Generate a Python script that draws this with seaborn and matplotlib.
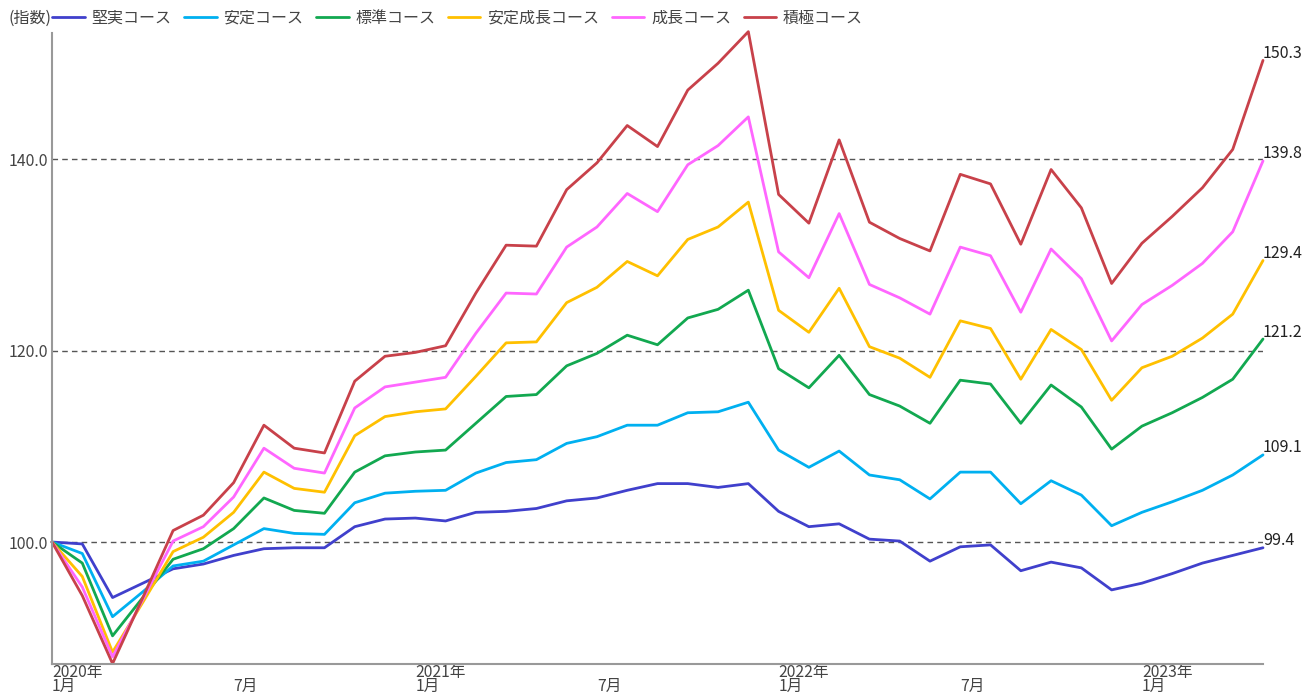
import numpy as np
import pandas as pd
import matplotlib
matplotlib.use("Agg")
import matplotlib.pyplot as plt
import seaborn as sns

courses = ["堅実コース", "安定コース", "標準コース", "安定成長コース", "成長コース", "積極コース"]
colors = ["#4040CC", "#00B0F0", "#12A850", "#FFC000", "#FF66FF", "#C8414A"]

kenjitsu = [100, 99.8, 94.2, 95.7, 97.2, 97.7, 98.6, 99.3, 99.4, 99.4, 101.6, 102.4, 102.5, 102.2,
            103.1, 103.2, 103.5, 104.3, 104.6, 105.4, 106.1, 106.1, 105.7, 106.1, 103.2, 101.6,
            101.9, 100.3, 100.1, 98.0, 99.5, 99.7, 97.0, 97.9, 97.3, 95.0, 95.7, 96.7, 97.8, 98.6, 99.4]
antei = [100, 98.8, 92.2, 94.8, 97.5, 98.0, 99.7, 101.4, 100.9, 100.8, 104.1, 105.1, 105.3, 105.4,
         107.2, 108.3, 108.6, 110.3, 111.0, 112.2, 112.2, 113.5, 113.6, 114.6, 109.6, 107.8,
         109.5, 107.0, 106.5, 104.5, 107.3, 107.3, 104.0, 106.4, 104.9, 101.7, 103.1, 104.2, 105.4, 107.0, 109.1]
hyojun = [100, 97.8, 90.2, 94.2, 98.2, 99.3, 101.4, 104.6, 103.3, 103.0, 107.3, 109.0, 109.4, 109.6,
          112.4, 115.2, 115.4, 118.4, 119.7, 121.6, 120.6, 123.4, 124.3, 126.3, 118.1, 116.1,
          119.5, 115.4, 114.2, 112.4, 116.9, 116.5, 112.4, 116.4, 114.1, 109.7, 112.1, 113.5, 115.1, 117.0, 121.2]
antei_seicho = [100, 96.4, 88.5, 93.7, 99.0, 100.5, 103.1, 107.3, 105.6, 105.2, 111.1, 113.1, 113.6, 113.9,
                117.3, 120.8, 120.9, 125.0, 126.6, 129.3, 127.8, 131.6, 132.9, 135.5, 124.2, 121.9,
                126.5, 120.4, 119.2, 117.2, 123.1, 122.3, 117.0, 122.2, 120.1, 114.8, 118.2, 119.4, 121.3, 123.8, 129.4]
seicho = [100, 95.3, 88.0, 94.0, 100.1, 101.6, 104.7, 109.8, 107.7, 107.2, 114.0, 116.2, 116.7, 117.2,
          121.8, 126.0, 125.9, 130.8, 132.9, 136.4, 134.5, 139.4, 141.4, 144.4, 130.3, 127.6,
          134.3, 126.9, 125.5, 123.8, 130.8, 129.9, 124.0, 130.6, 127.5, 121.0, 124.8, 126.8, 129.1, 132.4, 139.8]
sekkyoku = [100, 94.4, 87.3, 94.2, 101.2, 102.8, 106.2, 112.2, 109.8, 109.3, 116.8, 119.4, 119.8, 120.5,
            126.0, 131.0, 130.9, 136.8, 139.6, 143.5, 141.3, 147.2, 150.0, 153.3, 136.3, 133.3,
            142.0, 133.4, 131.7, 130.4, 138.4, 137.4, 131.1, 138.9, 134.9, 127.0, 131.2, 134.0, 137.0, 141.0, 150.3]

tick_pos = [0, 6, 12, 18, 24, 30, 36]
tick_labels = ["2020年\n1月", "\n7月", "2021年\n1月", "\n7月", "2022年\n1月", "\n7月", "2023年\n1月"]
ytick_vals = [100, 120, 140]

series = [kenjitsu, antei, hyojun, antei_seicho, seicho, sekkyoku]
rows = []
for name, vals in zip(courses, series):
    for i, v in enumerate(vals):
        rows.append({"month": i, "value": v, "course": name})
df = pd.DataFrame(rows)

sns.set_theme(style="white")
plt.rcParams["font.family"] = ["Noto Sans CJK JP", "DejaVu Sans"]

W, H = 1304, 697
fig = plt.figure(figsize=(W / 100, H / 100), dpi=100)
ax = fig.add_axes([52 / W, 33 / H, (1263 - 52) / W, (664 - 33) / H])

sns.lineplot(data=df, x="month", y="value", hue="course", hue_order=courses,
             palette=colors, linewidth=2.0, ax=ax, legend=False)
for ln in ax.get_lines():
    ln.set_clip_on(False)

ax.set_xlim(0, 40)
ax.set_ylim(87.26, 153.16)

for yv in ytick_vals:
    ax.axhline(yv, color="#555555", linewidth=1.0, linestyle=(0, (4, 3)), zorder=0)

ax.set_yticks(ytick_vals)
ax.set_yticklabels([f"{v:.1f}" for v in ytick_vals], fontsize=11.5, color="#444444")
ax.tick_params(axis="y", length=0, pad=3)

ax.set_xticks(tick_pos)
ax.set_xticklabels(tick_labels, fontsize=11.3, color="#444444", ha="left", linespacing=0.78)
ax.tick_params(axis="x", direction="in", length=10, width=1.2, color="#999999", pad=0)

for side in ["top", "right"]:
    ax.spines[side].set_visible(False)
for side in ["left", "bottom"]:
    ax.spines[side].set_color("#999999")
    ax.spines[side].set_linewidth(1.5)

ax.set_xlabel("")
ax.set_ylabel("")

# end labels
for vals in series:
    ax.annotate(f"{vals[-1]:.1f}", xy=(40, vals[-1]), xytext=(0, 5), textcoords="offset points",
                ha="left", va="center", fontsize=11.5, color="#222222", annotation_clip=False)

# legend
handles = [plt.Line2D([], [], color=c, linewidth=2.0) for c in colors]
fig.legend(handles, courses, loc="center left", bbox_to_anchor=(52 / W, 1 - 18 / H),
           ncol=6, frameon=False, fontsize=11.5, handlelength=2.05, handletextpad=0.42,
           columnspacing=0.78, borderpad=0, borderaxespad=0, labelcolor="#444444")
fig.text(51 / W, 1 - 18 / H, "(指数)", ha="right", va="center", fontsize=11.5, color="#444444")

fig.savefig("out.png", dpi=100)
